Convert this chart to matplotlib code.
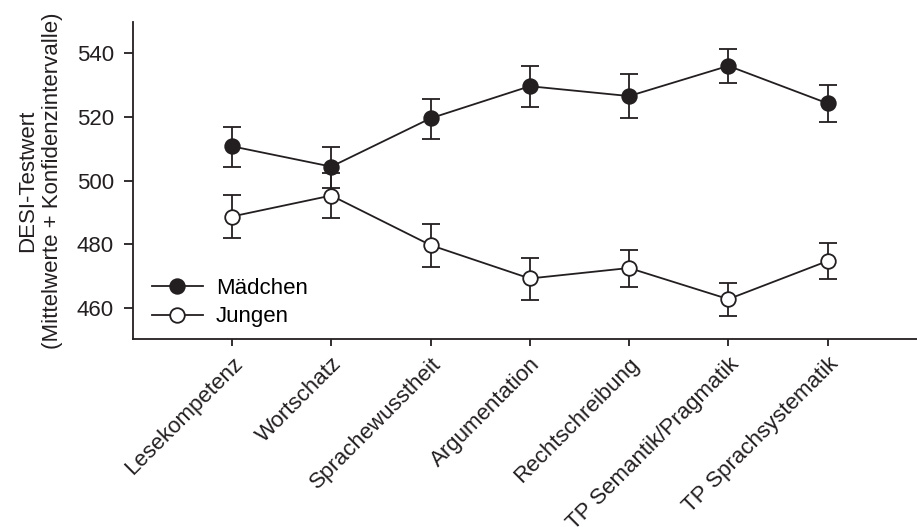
import numpy as np
import matplotlib.pyplot as plt

plt.rcParams['font.family'] = ['Liberation Sans', 'DejaVu Sans']

categories = ['Lesekompetenz', 'Wortschatz', 'Sprachewusstheit', 'Argumentation',
              'Rechtschreibung', 'TP Semantik/Pragmatik', 'TP Sprachsystematik']

# Mädchen: means and confidence interval bounds
maedchen_mean = [510.8, 504.4, 519.6, 529.7, 526.6, 536.1, 524.3]
maedchen_lo   = [504.4, 497.6, 513.2, 523.3, 519.7, 530.8, 518.3]
maedchen_hi   = [517.0, 510.7, 525.8, 536.2, 533.4, 541.3, 530.2]

# Jungen
jungen_mean = [488.7, 495.3, 479.7, 469.2, 472.5, 462.7, 474.7]
jungen_lo   = [481.8, 488.3, 472.7, 462.5, 466.6, 457.5, 468.9]
jungen_hi   = [495.4, 502.3, 486.4, 475.5, 478.2, 467.7, 480.4]

INK = '#231f20'
FS = 16

fig = plt.figure(figsize=(9.17, 5.27), dpi=100)
ax = fig.add_axes([0.1447, 0.3558, 0.8553, 0.603])

x = np.arange(len(categories))


def draw(mean, lo, hi, face, label):
    mean = np.array(mean)
    err = [mean - np.array(lo), np.array(hi) - mean]
    ax.errorbar(x, mean, yerr=err, fmt='none', ecolor=INK, elinewidth=1.3,
                capsize=6.2, capthick=1.3, zorder=2)
    ax.plot(x, mean, '-o', color=INK, lw=1.3, ms=10.5, mfc=face, mec=INK,
            mew=1.3, label=label, zorder=3)


draw(maedchen_mean, maedchen_lo, maedchen_hi, INK, 'Mädchen')
draw(jungen_mean, jungen_lo, jungen_hi, 'white', 'Jungen')

ax.set_xlim(-1, 6.9)
ax.set_ylim(450, 550)
ax.set_yticks([460, 480, 500, 520, 540])
ax.set_xticks(x)
ax.set_xticklabels(categories, rotation=45, ha='right', rotation_mode='anchor')

ax.spines[['top', 'right']].set_visible(False)
for s in ['left', 'bottom']:
    ax.spines[s].set_linewidth(1.3)
    ax.spines[s].set_color(INK)
ax.tick_params(axis='both', labelsize=FS, colors=INK, width=1.3, direction='out')
ax.tick_params(axis='y', length=6.5, pad=7)
ax.tick_params(axis='x', length=5, pad=5)

ax.set_ylabel('DESI-Testwert\n(Mittelwerte + Konfidenzintervalle)', fontsize=FS,
              color=INK, labelpad=10, linespacing=1.25)

ax.legend(loc='upper left', bbox_to_anchor=(0.024, 0.195), frameon=False,
          fontsize=FS, handlelength=2.3, handletextpad=0.6, borderpad=0,
          borderaxespad=0, labelspacing=0.35)

plt.savefig('out.png', dpi=100)
